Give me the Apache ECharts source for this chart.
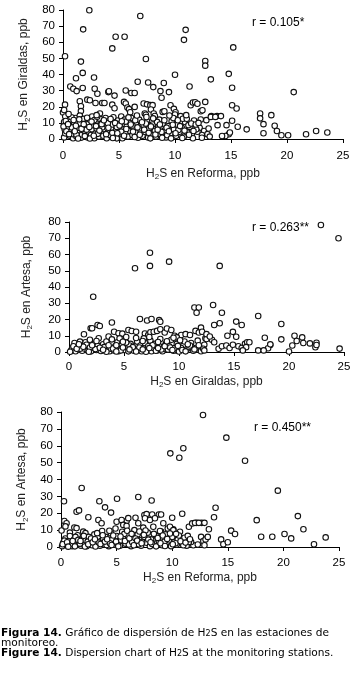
<!DOCTYPE html>
<html>
<head>
<meta charset="utf-8">
<script src="https://cdn.jsdelivr.net/npm/echarts@6/dist/echarts.min.js"></script>
<style>
  html, body { margin: 0; padding: 0; background: #fff; }
  #main { width: 357px; height: 675px; }
</style>
</head>
<body>
<div id="main"></div>
<script>
// H2S en Reforma (x) vs H2S en Giraldas (y)
var reformaGiraldas = [
  [2.35,79.8],[6.9,76.3],[1.8,68],[10.95,67.7],[10.8,61.5],[4.7,63.4],[5.5,63.4],[4.4,56.2],[15.2,56.8],[0.18,51.3],
  [7.4,49.6],[1.6,48],[12.7,48.4],[12.7,45.5],[1.76,41],[14.8,40.4],[10,39.8],[1.16,37.7],[2.77,38.1],[13.2,37],
  [7.6,35],[6.67,35.5],[9,34.7],[0.65,32.6],[1.76,31.6],[0.92,31.2],[1.22,29.7],[2.83,31.2],[3.07,28.1],[4.05,29.1],
  [4.1,29.6],[5.6,30.1],[6.1,28.5],[6.4,28.5],[4.6,26.9],[8.06,32.2],[8.7,29.7],[8.8,25.6],[9.46,29.1],[11.3,32.6],
  [15.1,31.8],[20.6,29.1],
  [0.0,16.4],[0.18,21.3],[0.1,18],[1.5,23.4],[1.6,20.3],[2.17,24.4],[2.4,24],[1.6,17.3],[2.9,22.3],[3.5,22.3],
  [3.7,22.3],[3.3,15.8],[4.4,21.3],[4.6,19.1],[5.45,23],[5.6,22],[5.75,19.5],[5.9,18.5],[6.0,16.6],[6.4,19.9],
  [7.2,22],[7.5,21.5],[7.8,21],[8.0,21],[7.3,15.8],[7.4,15],[7.85,18.3],[8.1,15.8],[8.2,14.3],[8.9,16.8],
  [9.05,17.2],[9.6,20.9],[9.9,18.7],[10.05,16.6],[10,15.2],[10.5,14.2],[11.4,20.9],[11.6,22.6],[11.8,22.8],[12.0,21.9],
  [12.3,17.2],[12.45,17.8],[12.7,23],[13.25,14.2],[13.75,14.2],[14.1,14.2],[13.8,8.6],[15.1,20.9],[15.5,18.9],[15.1,11.3],
  [14.6,8.6],[15.6,7.6],[16.4,6],[17.6,15.8],[17.6,12.8],[18.6,14.8],[17.9,3.6],[17.9,9.2],[18.9,8.2],[19.1,5],
  [19.5,2.3],[20.1,2.3],[21.7,2.9],[22.6,5],[23.6,4],[14.8,2.9],[14.9,4],[14.5,1.9],[14.2,1.9],[12.8,11.7],
  [12.3,12.1],[13.2,13.7],[13.6,13.7],[12.2,7],[12.6,5],[12.9,3],[13.1,1.5],[12.4,2.5],[12.0,4.5],[13.0,6.5],
  [0.1,1],[0.2,3.5],[0.15,6],[0.3,8.5],[0.1,10.5],[0.4,12.5],[0.2,14],[0.6,2],[0.7,5],[0.5,7.5],
  [0.8,10],[0.6,12],[0.9,0.5],[0.9,3],[1.0,6.5],[1.0,9],[1.1,13],[1.2,1.5],[1.3,4],[1.4,7],
  [1.3,11],[1.5,14.5],[1.6,0.8],[1.7,2.8],[1.8,5.5],[1.7,8],[1.9,10.5],[1.8,12.5],[2.0,3.5],[2.0,7],
  [2.2,1],[2.3,4.5],[2.2,9.5],[2.4,12],[2.5,2.5],[2.6,6],[2.7,8.5],[2.6,14],[2.8,0.5],[2.9,3.5],
  [2.9,10.5],[3.0,6.5],[3.2,1.5],[3.2,8],[3.3,12.5],[3.4,4.5],[3.5,10],[3.6,2],[3.7,6],[3.8,13],
  [3.9,8.5],[3.9,0.5],[4.0,4],[4.1,11],[4.2,2.5],[4.3,6.5],[4.4,9],[4.5,13.5],[4.6,1],[4.7,5],
  [4.8,7.5],[4.9,11.5],[5.0,3],[5.1,9.5],[5.2,14],[5.3,0.5],[5.4,6],[5.5,12],[5.6,3.5],[5.7,8],
  [5.8,1.5],[5.9,10.5],[6.0,5],[6.1,13],[6.2,2.5],[6.3,7],[6.5,9.5],[6.6,4],[6.7,0.8],[6.8,12],
  [6.9,6],[7.1,2],[7.2,8.5],[7.3,4.5],[7.5,11],[7.6,1],[7.7,6.5],[7.9,3],[8.0,9],[8.2,5],
  [8.3,1.5],[8.5,7.5],[8.6,12],[8.7,3],[8.9,9.5],[9.1,5.5],[9.2,1],[9.4,8],[9.6,3.5],[9.7,11],
  [9.9,6],[10.1,2],[10.2,9],[10.4,4.5],[10.6,7],[10.8,1.5],[10.9,10.5],[11.1,4],[11.3,7.5],[11.5,2.5],
  [11.7,11.5],[11.9,6],[11.6,0.5],
  [0.3,4.8],[0.8,7.2],[1.2,2.6],[1.5,9.8],[2.1,5.8],[2.4,0.3],[2.8,11.8],[3.1,3.2],[3.5,7.2],[4.0,9.8],
  [4.4,3.8],[4.8,0.4],[5.2,4.6],[5.6,10.8],[6.2,8.4],[6.4,1.2],[6.9,3.4],[7.4,9.6],[7.8,0.4],[8.4,10.6],
  [8.8,4.4],[9.3,2.4],[9.8,8.8],[10.3,5.6],[10.7,12.6],[11.2,8.6],
  [0.05,7.8],[0.25,11.2],[0.45,9.2],[0.55,3],[0.75,13.5],[0.95,11.8],[1.05,4.8],[1.15,8.2],[1.35,0.3],[1.45,12.2],
  [1.65,6.4],[1.85,9.2],[1.95,1.8],[2.15,13.2],[2.35,7.4],[2.55,10.8],[2.75,2],[2.95,8],[3.05,13.8],[3.25,5.2],
  [3.45,9.2],[3.65,11.6],[3.85,3],[4.05,7],[4.25,12.4],[4.45,0.6],[4.65,10],[4.85,3.6],[5.05,8.4],[5.25,11],
  [5.45,2],[5.65,6.2],[5.85,13.4],[6.05,9],[6.25,4.6],[6.45,11.6],[6.65,7.2],[6.85,2.6],[7.05,10.4],[7.25,5.8],
  [7.45,13.6],[7.65,3.8],[7.85,7.8],[8.05,12.8],[8.25,2.8],[8.45,5.8],[8.65,9],[8.85,0.8],[9.05,11.6],[9.25,7],
  [9.45,4.8],[9.65,0.4],[9.85,13],[10.05,3.6],[10.25,11.6],[10.45,8],[10.65,0.6],[10.85,5.2],[11.05,12.6],[11.25,2.6],
  [11.45,9.6],[11.65,5],[11.85,9],[12.1,10],[11.0,14.8],[9.5,14.6],[6.6,14.6],[3.0,14.8],[0.5,15.5],[12.4,0.8]
];

// H2S en Giraldas (x) vs H2S en Artesa (y)
var giraldasArtesa = [
  [22.9,78.2],[24.5,70],[7.36,61.1],[7.36,53],[6.0,51.5],[9.1,55.6],[13.7,53],[2.2,34],
  [11.4,27.4],[11.8,27.4],[11.6,24.2],[13.1,28.9],[13.9,24.2],[13.7,17.7],[13.2,16.6],[15.2,18.7],[15.7,16.6],[17.2,22.2],
  [19.3,17.2],[17.8,8.8],[18.3,4.3],[18.1,2.3],[19.3,7.8],[20.5,10],[20.7,6.8],[21.2,9],[21.3,5.5],[21.9,5.3],
  [22.5,5.7],[22.4,2.9],[22.5,4.3],[24.6,2.1],[20.0,0.3],[20.3,4],
  [6.45,20.3],[7.1,19.4],[7.5,20.3],[8.2,19.6],[3.9,18.2],[1.97,14.6],[2.1,14.6],[2.6,16.6],[2.8,16],[1.36,10.9],
  [4.1,12.5],[4.5,11.5],[4.85,11.3],[5.4,13.5],[5.7,12.9],[6.1,12.5],[6.9,11.4],[7.2,10.4],[6.8,8.4],[7.4,12.2],
  [7.7,12.5],[8.0,13],[8.3,18.6],[8.3,14],[8.7,12],[8.9,14.5],[9.3,13.5],[9.6,10],[10.2,10.5],[10.6,11],
  [11.0,10.5],[11.5,13],[11.8,12],[12.0,15],[12.1,12.5],[12.4,8.5],[12.5,8],[11.6,1.5],[11.9,3.5],
  [14.4,10],[14.9,12.4],[15.2,9.4],[13.6,2],[13.9,3.5],[14.3,4],[14.6,2.5],[14.9,4.5],[15.4,3.5],[15.7,2.5],
  [16.0,5],[16.2,6],[16.4,6],[16.1,3],[15.8,1],[17.2,1],[17.7,1],[18.3,4.7],[12.5,11],[13.0,7.5],
  [12.8,9.5],[12.3,4.5],[13.2,6],[9.8,1],[10.4,4],
  [0.2,1],[0.3,2.5],[0.5,5.5],[0.6,0.5],[0.8,3],[0.9,1.5],[1.1,4],[1.2,0.8],[1.4,2.2],[1.5,6],
  [1.7,1],[1.8,3.5],[1.9,7.5],[2.0,0.4],[2.2,2.6],[2.3,5],[2.5,1.2],[2.6,3.8],[2.7,8.5],[2.9,0.6],
  [3.0,2],[3.1,4.8],[3.3,1],[3.4,6.5],[3.5,3],[3.7,0.5],[3.8,2],[3.9,5.5],[4.1,1],[4.2,3.5],
  [4.4,6],[4.5,0.5],[4.6,2.5],[4.8,4.5],[5.0,1.2],[5.1,7],[5.3,3],[5.4,0.4],[5.6,5],[5.7,2],
  [5.9,0.8],[6.0,3.5],[6.2,6.5],[6.3,1.5],[6.5,4],[6.6,0.5],[6.8,2.5],[6.9,5.5],[7.1,1],[7.2,3.5],
  [7.4,7],[7.5,0.5],[7.7,2.5],[7.8,5],[8.0,1],[8.2,3.5],[8.3,8],[8.5,0.5],[8.6,2],[8.8,5],
  [9.0,1.5],[9.1,3.5],[9.3,7.5],[9.5,0.8],[9.6,2.5],[9.8,5],[10.0,0.3],[10.2,2.5],[10.5,6.5],[10.7,1.5],
  [10.9,3],[11.1,5.5],[11.3,0.8],[11.5,2.5],[11.7,7],[12.0,0.5],[12.2,2],
  [0.4,3.5],[1.0,2],[1.6,4.5],[2.4,1.8],[3.2,3],[4.0,2.2],[4.7,1],[5.5,4],[6.4,2.8],[7.0,0.2],
  [7.6,4.2],[8.4,1.5],[9.2,2.8],[10.3,1.2],[11.0,4],[3.6,9.5],[5.2,9.2],[9.8,9],[4.6,8.4],[1.0,6.4],
  [0.1,0.2],[0.7,2],[1.3,3.2],[1.9,2.8],[2.1,4.2],[2.8,2.6],[3.4,0.2],[3.6,4.2],[4.3,0.3],[4.9,2.8],
  [5.2,5.8],[5.8,3],[6.1,0.3],[6.7,1.6],[7.3,2.4],[7.9,0.8],[8.1,6.2],[8.7,3.6],[9.4,1.2],[9.9,3.8],
  [10.6,0.4],[10.8,4.8],[11.4,1.6],[11.8,4.2],[12.3,1],[2.5,6.8],[3.9,7.8],[6.1,8.6],[7.3,9.2],[9.5,8.8],
  [10.1,7.2],[0.9,4.8],[1.8,0.2],[4.9,6.3],[6.7,6.8],[8.9,6.6],[4.3,4.2],[5.5,1.6],[3.1,1.4],[8.1,2.4]
];

// H2S en Reforma (x) vs H2S en Artesa (y)
var reformaArtesa = [
  [12.77,78.2],[9.83,55.5],[11.0,58.5],[10.64,52.9],[14.87,64.8],[16.55,51.1],[19.5,33.4],[1.86,35],[0.27,27.1],[3.45,27.1],
  [5.04,28.6],[6.95,29.6],[8.15,27.6],[3.96,23.5],[4.5,20.4],[2.46,17.6],[1.4,20.9],[1.62,21.7],[0.3,15.4],[0.5,14.1],
  [0.8,8.5],[1.2,11.6],[1.4,11.2],[2.0,9.1],[2.2,8.2],[6.7,17.3],[7.5,19],[7.7,19.5],[8.2,19.3],[8.8,19.3],
  [9.0,19.3],[10,17.3],[10.9,19.7],[11.5,12],[11.8,14],[12.2,14.3],[12.65,14.3],[9.6,11],[10.1,10.5],[5.9,15.4],
  [13.9,23.3],[13.76,17.6],[13.3,10.5],[17.6,15.9],[21.3,18.3],[21.8,10.5],[15.3,9.7],[15.65,7.7],[18.0,6.1],[19.0,6.1],
  [20.1,7.7],[20.7,5.1],[22.75,1.6],[23.8,5.7],[14.4,4.5],[14.6,1.6],[15.0,2.8],[12.05,14.3],[12.4,14.3],[12.9,14.3],
  [12.6,6],[12.8,3.5],[13.0,4.5],[13.2,6],[12.9,1],[11.9,1],[11.7,3],[12.3,1.5],
  [3.36,16],[3.65,14.1],[5.0,15],[5.45,16],[5.6,13.1],[6.05,17.1],[6.95,14.1],[7.55,17],[8.0,16],[8.45,17],
  [9.2,14.1],[9.8,12],[10.1,10],[9.0,9.2],
  [0.1,0.5],[0.2,2.5],[0.4,5],[0.5,1],[0.7,3.5],[0.8,6.5],[1.0,0.5],[1.1,2.5],[1.2,4.5],[1.4,1.5],
  [1.5,7],[1.6,3],[1.8,0.8],[1.9,5],[2.0,2],[2.2,4],[2.3,0.5],[2.5,6],[2.6,2.5],[2.8,1],
  [2.9,4],[3.0,7.5],[3.2,2],[3.3,5.5],[3.5,0.8],[3.6,3.5],[3.7,9.5],[3.9,1.5],[4.0,6],[4.2,3],
  [4.3,0.5],[4.5,8],[4.6,4.5],[4.8,1.5],[4.9,11],[5.0,6.5],[5.2,3],[5.3,0.8],[5.5,9],[5.6,5],
  [5.8,2],[5.9,12.5],[6.0,7],[6.2,3.5],[6.3,0.5],[6.5,5.5],[6.6,10],[6.8,2],[6.9,7.5],[7.1,4],
  [7.2,0.8],[7.4,11.5],[7.5,6],[7.7,2.5],[7.8,8.5],[8.0,0.5],[8.1,4.5],[8.3,12],[8.5,2],[8.6,6.5],
  [8.8,3.5],[8.9,9.5],[9.1,1],[9.2,5],[9.4,7.5],[9.6,2.5],[9.7,4],[9.9,0.5],[10.0,6],[10.2,3],
  [10.4,1.5],[10.5,4.5],[10.7,9],[10.9,2],[11.1,5.5],[11.3,0.8],[11.5,3],
  [0.3,3.8],[0.9,1.8],[1.3,6],[1.7,2],[2.4,3.2],[2.7,5],[3.1,0.3],[3.4,2.6],[3.8,5],[4.1,1.2],
  [4.4,2.2],[4.7,6.8],[5.1,1.8],[5.4,4],[5.7,7.8],[6.1,1.5],[6.4,3],[6.7,5],[7.0,1.6],[7.3,3],
  [7.6,9.8],[8.2,1.8],[8.7,5.4],[9.3,3.2],[9.8,8],[10.3,2.2],[10.6,6.8],[11.0,1],[11.4,6.6],
  [0.15,1.6],[0.55,2.8],[0.65,0.2],[1.05,3.6],[1.25,0.4],[1.55,4.2],[1.75,3.6],[2.05,6.6],[2.15,0.3],[2.45,1.6],
  [2.85,2.8],[3.05,4.6],[3.25,8.2],[3.55,1.8],[3.75,7],[3.95,3.2],[4.15,4.6],[4.35,9.6],[4.55,1.2],[4.95,3.2],
  [5.15,0.4],[5.35,6.2],[5.75,3.6],[5.95,9.6],[6.15,5.2],[6.35,7.8],[6.55,1],[6.85,3.8],[7.05,9.2],[7.25,2.2],
  [7.45,7.2],[7.85,4.4],[8.05,2.8],[8.35,7.8],[8.55,0.4],[8.95,2.2],[9.15,6.8],[9.35,0.6],[9.55,4.8],[10.05,1.6],
  [10.35,7.8],[10.75,3.4],[11.2,2.6],[11.6,4.6],[0.05,9.8],[0.4,12.2]
];

var xTicks = [0, 5, 10, 15, 20, 25];
var yTicks = [0, 10, 20, 30, 40, 50, 60, 70, 80];
var rValues = ['r = 0.105*', 'r = 0.263**', 'r = 0.450**'];

var chart = echarts.init(document.getElementById('main'), null, { renderer: 'canvas' });

var font = 'Liberation Sans, Arial, sans-serif';
var lineStyle = { color: '#000', width: 1 };
var subRich = {
  n: { fontSize: 12, fontFamily: font, color: '#222' },
  s: { fontSize: 8, fontFamily: font, color: '#222', padding: [7, 0, 0, 0] }
};

function xAxis(idx, name, gap, margin) {
  return {
    gridIndex: idx,
    type: 'value',
    min: xTicks[0],
    max: xTicks[xTicks.length - 1],
    interval: 5,
    name: name,
    nameLocation: 'middle',
    nameGap: gap,
    nameTextStyle: { rich: subRich },
    axisLine: { lineStyle: lineStyle },
    axisTick: { length: 4, lineStyle: lineStyle },
    axisLabel: { margin: margin, color: '#000', fontSize: 11.5, fontFamily: font },
    splitLine: { show: false }
  };
}
function yAxis(idx, name, gap) {
  return {
    gridIndex: idx,
    type: 'value',
    min: yTicks[0],
    max: yTicks[yTicks.length - 1],
    interval: 10,
    name: name,
    nameLocation: 'middle',
    nameGap: gap,
    nameTextStyle: { rich: subRich },
    axisLine: { show: true, lineStyle: lineStyle },
    axisTick: { show: true, length: 4, lineStyle: lineStyle },
    axisLabel: { margin: 8, color: '#000', fontSize: 11.5, fontFamily: font },
    splitLine: { show: false }
  };
}
function scatter(idx, data) {
  return {
    type: 'scatter',
    xAxisIndex: idx,
    yAxisIndex: idx,
    data: data,
    symbol: 'circle',
    symbolSize: 5.5,
    itemStyle: { color: '#fff', borderColor: '#111', borderWidth: 1.1, opacity: 1 },
    silent: true
  };
}

var option = {
  animation: false,
  backgroundColor: '#fff',
  grid: [
    { left: 63, top: 10, width: 280, height: 129 },
    { left: 69, top: 222, width: 275, height: 130 },
    { left: 61, top: 412, width: 278, height: 135 }
  ],
  xAxis: [
    xAxis(0, '{n|H}{s|2}{n|S en Reforma, ppb}', 27, 11),
    xAxis(1, '{n|H}{s|2}{n|S en Giraldas, ppb}', 22, 9),
    xAxis(2, '{n|H}{s|2}{n|S en Reforma, ppb}', 23, 10)
  ],
  yAxis: [
    yAxis(0, '{n|H}{s|2}{n|S en Giraldas, ppb}', 29),
    yAxis(1, '{n|H}{s|2}{n|S en Artesa, ppb}', 35),
    yAxis(2, '{n|H}{s|2}{n|S en Artesa, ppb}', 28)
  ],
  series: [
    scatter(0, reformaGiraldas),
    scatter(1, giraldasArtesa),
    scatter(2, reformaArtesa)
  ],
  graphic: [
    { type: 'text', left: 252, top: 17, style: { text: rValues[0], font: '12px ' + font, fill: '#000' } },
    { type: 'text', left: 252, top: 222, style: { text: rValues[1], font: '12px ' + font, fill: '#000' } },
    { type: 'text', left: 254, top: 422, style: { text: rValues[2], font: '12px ' + font, fill: '#000' } },
    {
      type: 'text', left: 1, top: 628,
      style: {
        text: '{b|Figura 14.}{t| Gráfico de dispersión de H}{s|2}{t|S en las estaciones de}\n{t|monitoreo.}\n{b|Figure 14.}{t| Dispersion chart of H}{s|2}{t|S at the monitoring stations.}',
        rich: {
          b: { fontSize: 10.6, fontWeight: 'bold', fontFamily: 'DejaVu Sans', lineHeight: 10 },
          t: { fontSize: 10.6, fontFamily: 'DejaVu Sans', lineHeight: 10 },
          s: { fontSize: 8, fontFamily: 'DejaVu Sans', lineHeight: 10 }
        },
        fill: '#000'
      }
    }
  ]
};
chart.setOption(option);
</script>
</body>
</html>
